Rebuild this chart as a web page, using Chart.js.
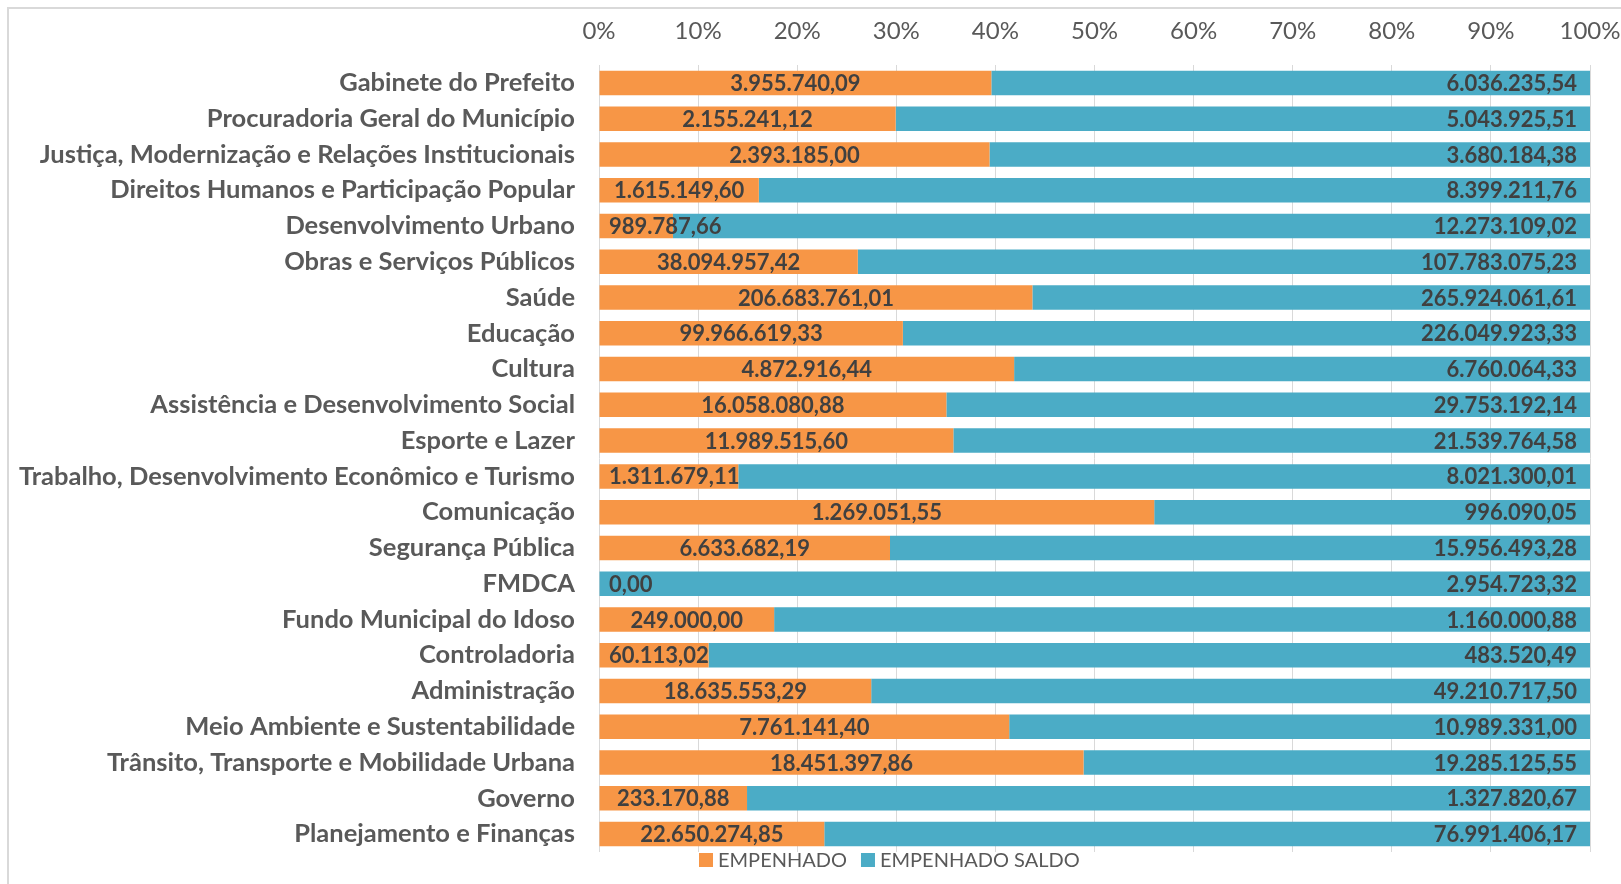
<!DOCTYPE html>
<html>
<head>
<meta charset="utf-8">
<script src="https://cdn.jsdelivr.net/npm/chart.js@4"></script>
<style>
  html, body { margin: 0; padding: 0; background: #fff; overflow: hidden; }
  #wrap { position: relative; width: 1621px; height: 884px; }
  #frame { position: absolute; left: 7px; top: 7px; width: 1640px; height: 900px;
           border-left: 2px solid #d9d9d9; border-top: 2px solid #d9d9d9; }
  #chart { position: absolute; left: 0; top: 0; }
</style>
</head>
<body>
<div id="wrap">
  <div id="frame"></div>
  <canvas id="chart" width="1621" height="884"></canvas>
</div>
<script>
// categorias (secretarias)
const categories = [
  'Gabinete do Prefeito',
  'Procuradoria Geral do Município',
  'Justiça, Modernização e Relações Institucionais',
  'Direitos Humanos e Participação Popular',
  'Desenvolvimento Urbano',
  'Obras e Serviços Públicos',
  'Saúde',
  'Educação',
  'Cultura',
  'Assistência e Desenvolvimento Social',
  'Esporte e Lazer',
  'Trabalho, Desenvolvimento Econômico e Turismo',
  'Comunicação',
  'Segurança Pública',
  'FMDCA',
  'Fundo Municipal do Idoso',
  'Controladoria',
  'Administração',
  'Meio Ambiente e Sustentabilidade',
  'Trânsito, Transporte e Mobilidade Urbana',
  'Governo',
  'Planejamento e Finanças'
];

const empenhado = [3955740.09, 2155241.12, 2393185.00, 1615149.60, 989787.66, 38094957.42,
  206683761.01, 99966619.33, 4872916.44, 16058080.88, 11989515.60, 1311679.11, 1269051.55,
  6633682.19, 0.00, 249000.00, 60113.02, 18635553.29, 7761141.40, 18451397.86, 233170.88,
  22650274.85];

const empenhadoSaldo = [6036235.54, 5043925.51, 3680184.38, 8399211.76, 12273109.02, 107783075.23,
  265924061.61, 226049923.33, 6760064.33, 29753192.14, 21539764.58, 8021300.01, 996090.05,
  15956493.28, 2954723.32, 1160000.88, 483520.49, 49210717.50, 10989331.00, 19285125.55,
  1327820.67, 76991406.17];

const seriesNames = ['EMPENHADO', 'EMPENHADO SALDO'];
const seriesColors = ['#F79646', '#4BACC6'];

// 100% empilhado
const pctEmp = empenhado.map((v, i) => v / (v + empenhadoSaldo[i]) * 100);
const pctSaldo = empenhadoSaldo.map((v, i) => v / (empenhado[i] + v) * 100);

function fmt(n) {
  const parts = n.toFixed(2).split('.');
  const inteiro = parts[0].replace(/\B(?=(\d{3})+(?!\d))/g, '.');
  return inteiro + ',' + parts[1];
}

// rotulos nas barras
const valueLabels = {
  id: 'valueLabels',
  afterDatasetsDraw(chart) {
    const ctx = chart.ctx;
    const area = chart.chartArea;
    ctx.save();
    ctx.font = 'bold 22px Lato';
    ctx.fillStyle = '#404040';
    ctx.textBaseline = 'middle';
    chart.getDatasetMeta(0).data.forEach((bar, i) => {
      const txt = fmt(empenhado[i]);
      const w = ctx.measureText(txt).width;
      const cx = (bar.x + bar.base) / 2;
      const left = Math.max(cx - w / 2, area.left + 10);
      ctx.textAlign = 'left';
      ctx.fillText(txt, left, bar.y + 1);
    });
    chart.getDatasetMeta(1).data.forEach((bar, i) => {
      ctx.textAlign = 'right';
      ctx.fillText(fmt(empenhadoSaldo[i]), bar.x - 13, bar.y + 1);
    });
    ctx.restore();
  }
};

// legenda embaixo
const bottomLegend = {
  id: 'bottomLegend',
  afterDraw(chart) {
    const ctx = chart.ctx;
    ctx.save();
    ctx.font = '20px Lato';
    ctx.textBaseline = 'middle';
    ctx.textAlign = 'left';
    let x = 699;
    const y = 860;
    seriesNames.forEach((name, i) => {
      ctx.fillStyle = seriesColors[i];
      ctx.fillRect(x, y - 7, 14, 14);
      ctx.fillStyle = '#595959';
      ctx.fillText(name, x + 19, y + 1);
      x += 19 + ctx.measureText(name).width + 14;
    });
    ctx.restore();
  }
};

new Chart(document.getElementById('chart'), {
  type: 'bar',
  data: {
    labels: categories,
    datasets: [
      { label: seriesNames[0], data: pctEmp, backgroundColor: seriesColors[0] },
      { label: seriesNames[1], data: pctSaldo, backgroundColor: seriesColors[1] }
    ]
  },
  options: {
    indexAxis: 'y',
    responsive: false,
    animation: false,
    layout: { padding: { left: 0, right: 31, top: 0, bottom: 32 } },
    datasets: { bar: { barPercentage: 0.685, categoryPercentage: 1 } },
    plugins: { legend: { display: false }, tooltip: { enabled: false } },
    scales: {
      x: {
        position: 'top',
        stacked: true,
        min: 0,
        max: 100,
        ticks: {
          stepSize: 10,
          callback: v => v + '%',
          color: '#595959',
          font: { family: 'Lato', size: 24 },
          padding: 19
        },
        grid: { color: '#d9d9d9', lineWidth: 1, drawTicks: false },
        border: { display: false },
        afterFit(s) { s.height = 65; s.paddingLeft = 0; s.paddingRight = 0; }
      },
      y: {
        stacked: true,
        ticks: {
          color: '#595959',
          font: { family: 'Lato', size: 25.5, weight: 'bold' },
          padding: 24
        },
        grid: { display: false, drawTicks: false },
        border: { display: false },
        afterFit(s) { s.width = 599; s.paddingTop = 0; s.paddingBottom = 0; }
      }
    }
  },
  plugins: [valueLabels, bottomLegend]
});
</script>
</body>
</html>
